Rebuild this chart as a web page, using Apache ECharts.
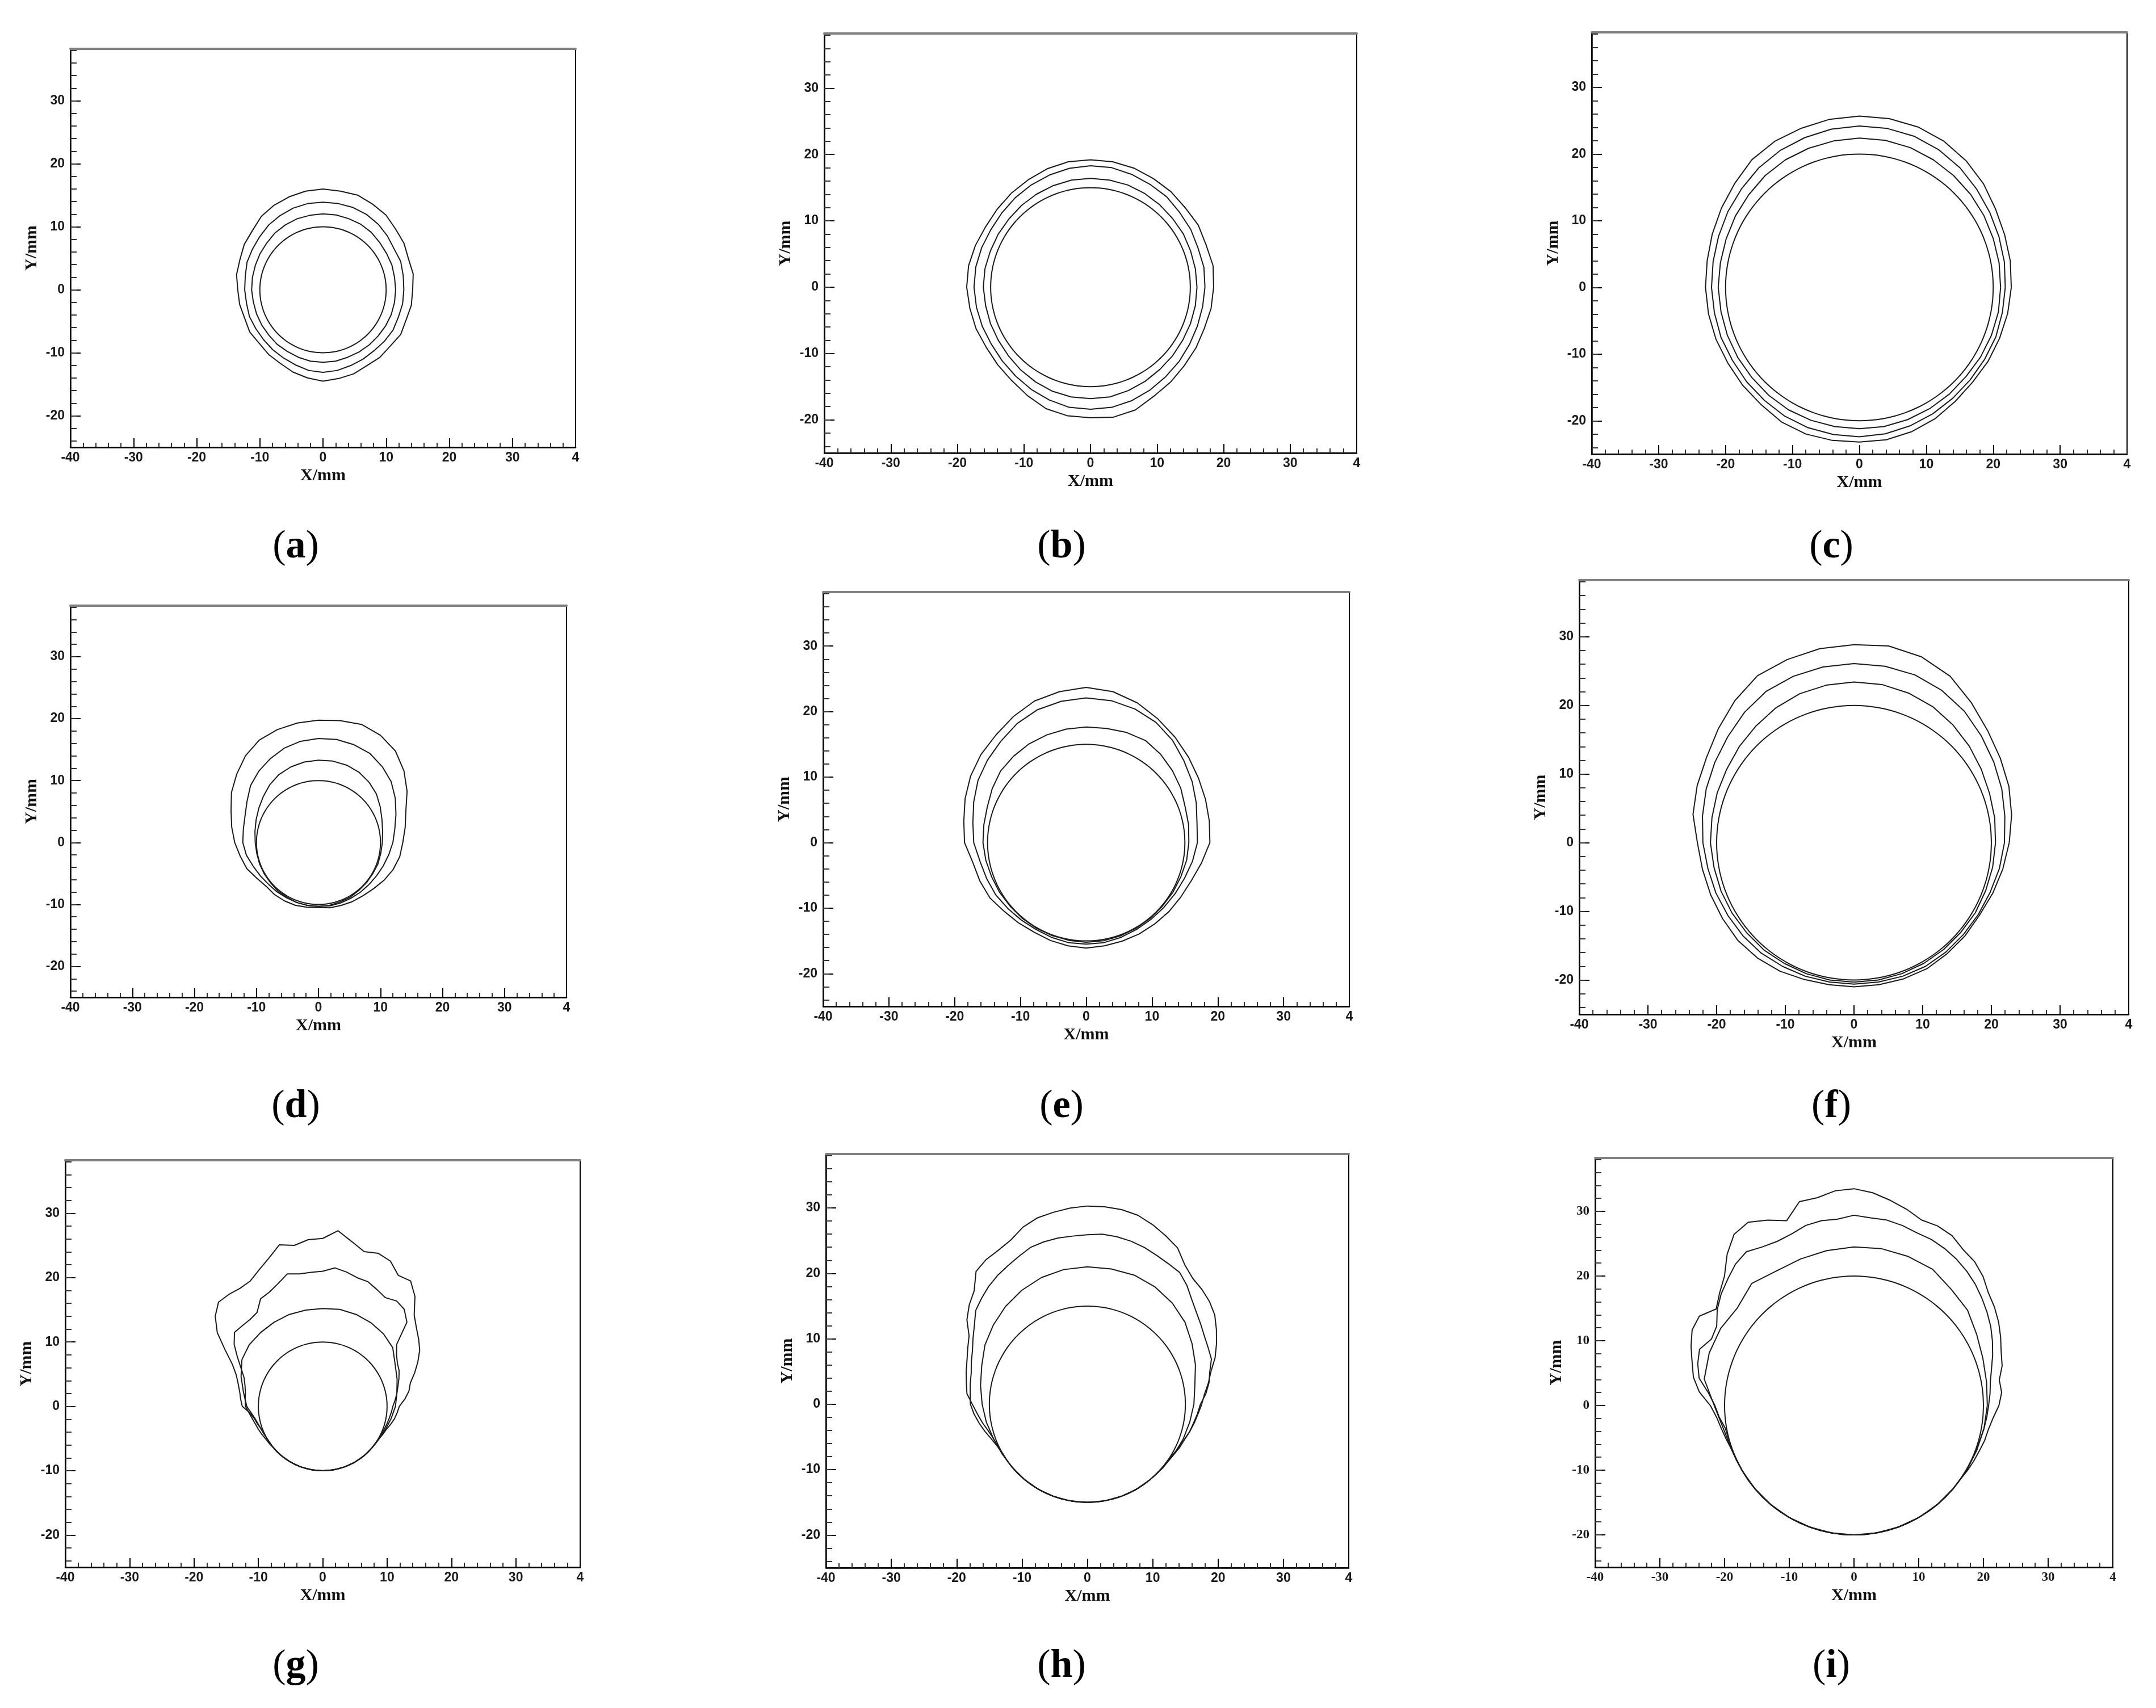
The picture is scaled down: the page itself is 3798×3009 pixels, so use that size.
<!DOCTYPE html>
<html>
<head>
<meta charset="utf-8">
<title>Contours</title>
<script src="https://cdn.jsdelivr.net/npm/echarts@6/dist/echarts.min.js"></script>
<style>
  html, body { margin: 0; padding: 0; background: #fff; }
  #chart { width: 3798px; height: 3009px; }
</style>
</head>
<body>
<div id="chart"></div>
<script>
// panel letters, left to right, top to bottom
const panels = ['a', 'b', 'c', 'd', 'e', 'f', 'g', 'h', 'i'];
// radius of the start circle in each panel (mm)
const baseRadius = [10, 15, 20, 10, 15, 20, 10, 15, 20];

// tick values
const yTicks = [-20, -10, 0, 10, 20, 30];
const yMinorTicks = [-24, -22, -20, -18, -16, -14, -12, -10, -8, -6, -4, -2, 0, 2, 4, 6, 8, 10,
  12, 14, 16, 18, 20, 22, 24, 26, 28, 30, 32, 34, 36, 38];

// contour radii (mm), evenly spaced in angle, counter-clockwise from +X
const a1 = [11.5, 11.5, 11.6, 11.6, 11.7, 11.9, 12.0, 12.0, 12.05, 12.05, 12.0, 12.0, 11.9, 11.8, 11.6, 11.5, 11.4, 11.35,
  11.3, 11.2, 11.2, 11.2, 11.2, 11.3, 11.3, 11.4, 11.5, 11.5, 11.5, 11.4, 11.4, 11.4, 11.4, 11.45, 11.5, 11.5];
const a2 = [12.8, 12.9, 13.1, 13.0, 13.3, 13.6, 13.8, 13.9, 13.9, 13.9, 13.9, 13.8, 13.6, 13.4, 13.1, 12.9, 12.8, 12.5,
  12.4, 12.3, 12.4, 12.3, 12.3, 12.4, 12.5, 12.7, 13.0, 13.1, 13.0, 12.8, 12.7, 12.6, 12.7, 12.8, 12.7, 12.8];
const a3 = [14.2, 14.5, 14.4, 14.8, 15.0, 15.5, 15.7, 16.0, 15.9, 16.0, 15.9, 15.7, 15.5, 15.2, 14.6, 14.4, 14.0, 13.9,
  13.5, 13.4, 13.2, 13.4, 13.2, 13.4, 13.5, 13.9, 14.2, 14.5, 14.3, 14.2, 13.9, 14.0, 13.9, 14.2, 14.0, 14.2];

const b1 = [16.0, 16.0, 16.0, 16.1, 16.1, 16.2, 16.3, 16.4, 16.4, 16.4, 16.4, 16.3, 16.2, 16.1, 16.0, 16.0, 16.0, 16.1,
  16.1, 16.0, 16.0, 16.0, 16.1, 16.3, 16.5, 16.7, 16.8, 16.8, 16.8, 16.6, 16.4, 16.2, 16.1, 16.0, 16.0, 16.0];
const b2 = [17.2, 17.3, 17.2, 17.4, 17.5, 17.8, 17.9, 18.1, 18.3, 18.3, 18.2, 18.0, 17.8, 17.6, 17.4, 17.3, 17.4, 17.5,
  17.5, 17.4, 17.3, 17.2, 17.3, 17.5, 17.8, 18.1, 18.4, 18.4, 18.4, 18.2, 17.9, 17.6, 17.4, 17.2, 17.1, 17.1];
const b3 = [18.5, 18.7, 18.5, 18.7, 18.6, 18.8, 18.9, 19.1, 19.2, 19.2, 19.2, 19.0, 18.7, 18.5, 18.3, 18.2, 18.4, 18.6,
  18.6, 18.4, 18.3, 18.1, 18.2, 18.4, 18.9, 19.5, 19.7, 19.7, 19.9, 19.7, 19.0, 18.7, 18.4, 18.3, 18.2, 18.4];

const c1 = [21.1, 21.2, 21.3, 21.5, 21.7, 21.9, 22.1, 22.3, 22.4, 22.4, 22.3, 22.2, 22.1, 21.9, 21.6, 21.4, 21.2, 21.1,
  21.1, 21.0, 21.0, 21.0, 21.0, 21.1, 21.2, 21.2, 21.2, 21.2, 21.2, 21.1, 21.0, 20.9, 20.8, 20.9, 21.0, 21.1];
const c2 = [21.8, 22.0, 22.2, 22.5, 22.9, 23.4, 23.8, 24.1, 24.2, 24.2, 24.1, 23.9, 23.7, 23.4, 23.0, 22.7, 22.4, 22.2,
  22.1, 22.0, 22.0, 21.9, 22.0, 22.1, 22.3, 22.4, 22.4, 22.4, 22.3, 22.1, 21.9, 21.7, 21.6, 21.6, 21.7, 21.7];
const c3 = [22.7, 22.9, 23.1, 23.5, 24.2, 24.8, 25.3, 25.6, 25.7, 25.7, 25.6, 25.4, 25.3, 25.0, 24.3, 23.8, 23.4, 23.1,
  23.0, 22.9, 22.8, 22.7, 22.8, 22.9, 23.3, 23.4, 23.3, 23.2, 23.2, 23.0, 22.7, 22.3, 22.1, 22.2, 22.3, 22.5];

const d1 = [10.3, 10.5, 10.9, 11.5, 12.2, 12.7, 13.1, 13.3, 13.35, 13.3, 13.2, 13.0, 12.7, 12.2, 11.6, 11.1, 10.7, 10.4,
  10.2, 10.1, 10.1, 10.1, 10.1, 10.2, 10.2, 10.3, 10.3, 10.3, 10.3, 10.2, 10.2, 10.1, 10.1, 10.1, 10.2, 10.2];
const d2 = [12.0, 12.5, 13.3, 14.3, 15.3, 16.0, 16.6, 16.8, 16.9, 16.8, 16.6, 16.2, 15.6, 15.0, 14.3, 13.3, 12.6, 12.3,
  12.2, 11.8, 11.2, 10.8, 10.5, 10.4, 10.3, 10.3, 10.3, 10.3, 10.4, 10.4, 10.4, 10.5, 10.6, 10.8, 11.1, 11.5];
const d3 = [13.6, 14.2, 15.0, 16.5, 18.0, 19.3, 20.0, 20.3, 20.0, 19.75, 19.6, 19.4, 19.1, 18.3, 17.2, 16.2, 15.0, 14.2,
  13.5, 12.8, 12.3, 11.5, 11.0, 11.0, 10.9, 10.8, 10.6, 10.5, 10.7, 10.8, 11.0, 11.2, 11.6, 12.2, 12.8, 13.3];

const e1 = [15.6, 15.8, 16.0, 16.6, 17.1, 17.6, 18.0, 17.9, 17.7, 17.65, 17.6, 17.5, 17.4, 17.2, 17.0, 16.5, 16.0, 15.8,
  15.7, 15.5, 15.3, 15.2, 15.1, 15.1, 15.1, 15.1, 15.15, 15.2, 15.2, 15.15, 15.1, 15.1, 15.1, 15.2, 15.3, 15.5];
const e2 = [16.9, 17.1, 17.8, 18.6, 19.4, 20.4, 21.2, 21.7, 22.0, 22.1, 21.9, 21.6, 21.0, 20.2, 19.6, 19.0, 18.2, 17.5,
  17.1, 16.4, 16.1, 15.9, 15.6, 15.4, 15.3, 15.4, 15.5, 15.5, 15.5, 15.4, 15.3, 15.3, 15.4, 15.6, 15.9, 16.4];
const e3 = [18.8, 19.0, 19.3, 19.7, 20.3, 21.0, 21.8, 22.7, 23.4, 23.7, 23.4, 23.0, 22.2, 21.4, 20.9, 20.3, 19.6, 18.9,
  18.5, 17.5, 17.2, 16.9, 16.3, 16.0, 15.8, 15.9, 16.0, 16.1, 16.0, 16.0, 16.1, 16.2, 16.4, 16.6, 17.0, 17.8];

const f1 = [20.6, 20.8, 21.0, 21.4, 21.9, 22.4, 22.9, 23.2, 23.4, 23.4, 23.3, 23.1, 22.7, 22.2, 21.8, 21.4, 21.2, 21.0,
  20.9, 20.7, 20.6, 20.5, 20.4, 20.4, 20.3, 20.3, 20.3, 20.3, 20.3, 20.3, 20.3, 20.3, 20.3, 20.4, 20.4, 20.5];
const f2 = [21.9, 22.3, 22.9, 23.5, 24.2, 25.0, 25.6, 26.0, 26.1, 26.1, 26.0, 25.8, 25.5, 24.8, 24.0, 23.4, 22.9, 22.4,
  22.0, 21.6, 21.4, 21.2, 21.1, 21.0, 20.8, 20.7, 20.6, 20.6, 20.6, 20.7, 20.8, 20.8, 20.8, 20.9, 21.1, 21.5];
const f3 = [22.6, 23.3, 24.0, 24.6, 25.4, 26.6, 28.0, 28.8, 29.1, 28.85, 28.7, 28.4, 28.1, 27.0, 25.8, 24.8, 24.3, 23.8,
  22.8, 22.4, 22.2, 22.1, 22.1, 21.9, 21.6, 21.2, 21.0, 21.0, 21.0, 21.1, 21.2, 21.1, 21.1, 21.1, 21.5, 22.0];

const g1 = [11.3, 11.7, 12.3, 13.0, 14.2, 14.7, 15.0, 15.2, 15.3, 15.2, 15.2, 15.2, 15.1, 15.0, 14.9, 14.5, 13.5, 12.5,
  11.8, 10.7, 10.2, 10.0, 10.0, 10.0, 10.0, 10.0, 10.0, 10.0, 10.0, 10.0, 10.0, 10.0, 10.0, 10.1, 10.4, 10.8];
const g2 = [10.9, 11.3, 11.7, 12.1, 12.6, 13.1, 13.4, 14.0, 15.0, 18.5, 19.7, 20.0, 19.5, 20.0, 20.6, 20.7, 21.2, 21.6,
  21.0, 20.9, 20.9, 21.3, 20.3, 19.6, 19.3, 17.8, 17.6, 17.7, 17.9, 16.8, 15.3, 14.0, 13.0, 12.5, 12.2, 12.1,
  12.0, 11.5, 11.1, 10.8, 10.6, 10.4, 10.2, 10.1, 10.0, 10.0, 10.0, 10.0, 10.0, 10.0, 10.0, 10.0, 10.0, 10.0,
  10.0, 10.0, 10.0, 10.0, 10.0, 10.0, 10.0, 10.0, 10.0, 10.0, 10.0, 10.0, 10.05, 10.1, 10.2, 10.35, 10.5, 10.7];
const g3 = [11.9, 12.8, 13.6, 14.1, 15.2, 16.3, 17.4, 18.2, 19.0, 20.1, 22.3, 23.8, 23.5, 24.9, 25.3, 24.9, 26.0, 27.4,
  26.1, 26.0, 25.4, 26.0, 24.5, 23.4, 22.5, 22.4, 22.7, 22.9, 21.8, 20.0, 17.5, 15.5, 14.3, 13.6, 13.1, 12.8,
  12.5, 11.4, 10.8, 10.5, 10.2, 10.1, 10.0, 10.0, 10.0, 10.0, 10.0, 10.0, 10.0, 10.0, 10.0, 10.0, 10.0, 10.0,
  10.0, 10.0, 10.0, 10.0, 10.0, 10.0, 10.0, 10.0, 10.0, 10.0, 10.0, 10.05, 10.1, 10.3, 10.5, 10.9, 11.3, 11.6];

const h1 = [16.3, 16.7, 17.6, 18.5, 19.5, 20.2, 20.7, 21.0, 21.0, 21.0, 20.9, 20.6, 20.1, 19.5, 18.8, 18.1, 17.2, 16.6,
  16.1, 15.7, 15.3, 15.1, 15.0, 15.0, 15.0, 15.0, 15.0, 15.0, 15.0, 15.0, 15.0, 15.0, 15.1, 15.3, 15.6, 15.9];
const h2 = [17.3, 18.2, 18.9, 19.4, 20.2, 20.4, 20.7, 21.2, 21.8, 22.6, 23.7, 24.6, 24.8, 25.1, 25.5, 25.8, 26.0, 26.1,
  25.9, 25.8, 25.8, 25.7, 25.5, 24.9, 24.4, 24.0, 23.5, 22.9, 22.3, 21.1, 20.2, 19.4, 18.9, 18.4, 18.2, 18.0,
  17.9, 17.4, 16.8, 16.2, 15.6, 15.2, 15.0, 15.0, 15.0, 15.0, 15.0, 15.0, 15.0, 15.0, 15.0, 15.0, 15.0, 15.0,
  15.0, 15.0, 15.0, 15.0, 15.0, 15.0, 15.0, 15.0, 15.0, 15.0, 15.0, 15.1, 15.3, 15.6, 15.8, 16.2, 16.5, 16.9];
const h3 = [17.5, 18.0, 18.8, 19.6, 20.8, 21.8, 22.8, 23.8, 24.4, 24.8, 25.1, 26.0, 27.6, 28.4, 29.2, 29.9, 30.2, 30.3,
  30.3, 30.1, 29.8, 29.5, 28.8, 27.7, 27.2, 27.0, 26.5, 24.5, 23.6, 22.5, 20.9, 20.2, 19.6, 19.2, 18.8, 18.5,
  17.6, 16.9, 16.3, 15.7, 15.3, 15.1, 15.0, 15.0, 15.0, 15.0, 15.0, 15.0, 15.0, 15.0, 15.0, 15.0, 15.0, 15.0,
  15.0, 15.0, 15.0, 15.0, 15.0, 15.0, 15.0, 15.0, 15.0, 15.0, 15.0, 15.0, 15.2, 15.5, 15.8, 16.2, 16.6, 17.0];

const i1 = [20.6, 20.8, 21.2, 21.9, 22.9, 23.4, 24.3, 24.5, 24.6, 24.5, 24.3, 24.1, 24.0, 24.6, 23.5, 23.8, 23.8, 23.5,
  21.6, 20.5, 20.1, 20.0, 20.0, 20.0, 20.0, 20.0, 20.0, 20.0, 20.0, 20.0, 20.0, 20.0, 20.0, 20.1, 20.2, 20.4];
const i2 = [20.8, 21.1, 21.4, 22.0, 22.8, 23.6, 24.4, 25.1, 25.8, 26.5, 27.1, 27.6, 28.0, 28.3, 28.4, 28.8, 29.1, 29.1,
  29.4, 28.9, 29.0, 28.8, 28.2, 28.0, 28.3, 29.0, 28.5, 27.6, 26.8, 25.8, 24.5, 24.3, 25.4, 25.0, 24.3, 22.6,
  21.5, 20.9, 20.2, 20.05, 20.0, 20.0, 20.0, 20.0, 20.0, 20.0, 20.0, 20.0, 20.0, 20.0, 20.0, 20.0, 20.0, 20.0,
  20.0, 20.0, 20.0, 20.0, 20.0, 20.0, 20.0, 20.0, 20.0, 20.0, 20.0, 20.0, 20.0, 20.05, 20.1, 20.2, 20.4, 20.6];
const i3 = [22.4, 22.9, 22.8, 23.7, 24.2, 25.0, 25.8, 26.5, 27.1, 28.2, 29.0, 29.4, 30.3, 30.6, 30.5, 31.4, 32.2, 33.0,
  33.5, 33.3, 32.6, 32.6, 30.4, 31.6, 32.7, 32.3, 30.5, 28.3, 27.1, 26.0, 27.6, 27.6, 26.8, 25.9, 25.2, 24.0,
  22.2, 21.3, 20.8, 20.4, 20.1, 20.05, 20.0, 20.0, 20.0, 20.0, 20.0, 20.0, 20.0, 20.0, 20.0, 20.0, 20.0, 20.0,
  20.0, 20.0, 20.0, 20.0, 20.0, 20.0, 20.0, 20.0, 20.0, 20.0, 20.0, 20.0, 20.2, 20.4, 20.6, 20.9, 21.1, 21.6];

const contours = [[a1, a2, a3], [b1, b2, b3], [c1, c2, c3], [d1, d2, d3], [e1, e2, e3],
  [f1, f2, f3], [g1, g2, g3], [h1, h2, h3], [i1, i2, i3]];

// plot boxes [left, top, width, height] and panel caption centres, in px
const boxes = [
  [124, 86, 890, 702], [1452, 59, 938, 739], [2804, 57, 943, 743],
  [124, 1067, 874, 690], [1450, 1043, 927, 730], [2782, 1022, 968, 765],
  [115, 2044, 907, 717], [1455, 2033, 921, 729], [2810, 2040, 912, 721]
];
const captionPos = [
  [521, 964], [1870, 964], [3226, 964],
  [521, 1950], [1870, 1950], [3226, 1950],
  [521, 2936], [1870, 2936], [3226, 2936]
];

const sans = 'Liberation Sans, Arial, sans-serif';
const serif = 'Liberation Serif, Times New Roman, serif';

// polar samples -> x/y points, closed
function toXY(radii) {
  const step = 2 * Math.PI / radii.length;
  const pts = radii.map((r, k) => [r * Math.cos(k * step), r * Math.sin(k * step)]);
  pts.push(pts[0]);
  return pts;
}

const grids = [], xAxes = [], yAxes = [], series = [], graphic = [];

panels.forEach((p, i) => {
  const b = boxes[i];
  const tickFont = i === 8 ? serif : sans;
  grids.push({ left: b[0], top: b[1], width: b[2], height: b[3], show: true,
    borderColor: '#000', borderWidth: 2, backgroundColor: 'transparent' });

  xAxes.push({
    gridIndex: i, type: 'value', min: -40, max: 40, interval: 10, position: 'bottom',
    axisLine: { onZero: false, lineStyle: { color: '#000', width: 2.5 } },
    axisTick: { inside: true, length: 16, lineStyle: { color: '#000', width: 2 } },
    minorTick: { show: true, splitNumber: 5, length: 8, lineStyle: { color: '#333', width: 2 } },
    splitLine: { show: false },
    axisLabel: { margin: 7, fontSize: 23, fontWeight: 'bold', color: '#1a1a1a', fontFamily: tickFont,
      formatter: v => (v === 40 ? '4' : String(v)) },
    name: 'X/mm', nameLocation: 'middle', nameGap: 35,
    nameTextStyle: { fontFamily: serif, fontWeight: 'bold', fontSize: 30, color: '#111' }
  });
  // grey top frame line
  xAxes.push({
    gridIndex: i, type: 'value', min: -40, max: 40, position: 'top',
    axisLine: { onZero: false, lineStyle: { color: '#808080', width: 4 } },
    axisTick: { show: false }, axisLabel: { show: false }, splitLine: { show: false }
  });

  yAxes.push({
    gridIndex: i, type: 'value', min: -25, max: 38.25, position: 'left',
    axisLine: { onZero: false, lineStyle: { color: '#000', width: 2.5 } },
    axisTick: { inside: true, length: 18, customValues: yTicks, lineStyle: { color: '#000', width: 2 } },
    axisLabel: { customValues: yTicks, margin: 10, fontSize: 23, fontWeight: 'bold', color: '#1a1a1a',
      fontFamily: tickFont },
    splitLine: { show: false },
    name: 'Y/mm', nameLocation: 'middle', nameGap: 53, nameRotate: 90,
    nameTextStyle: { fontFamily: serif, fontWeight: 'bold', fontSize: 30, color: '#111' }
  });
  // minor ticks on the y axis
  yAxes.push({
    gridIndex: i, type: 'value', min: -25, max: 38.25, position: 'left',
    axisLine: { show: false, onZero: false },
    axisTick: { inside: true, length: 11, customValues: yMinorTicks, lineStyle: { color: '#333', width: 2 } },
    axisLabel: { show: false }, splitLine: { show: false }
  });

  // start circle drawn smooth, grown contours left angular like the traced outlines
  const circle = new Array(72).fill(baseRadius[i]);
  [circle].concat(contours[i]).forEach((r, k) => {
    series.push({
      type: 'line', xAxisIndex: 2 * i, yAxisIndex: 2 * i,
      data: toXY(r), showSymbol: false, symbol: 'none', smooth: k === 0 ? 0.3 : false,
      lineStyle: { color: '#1a1a1a', width: 2 }, silent: true
    });
  });

  graphic.push({
    type: 'text', x: captionPos[i][0], y: captionPos[i][1],
    style: {
      text: '{p|(}{b|' + p + '}{p|)}', align: 'center', verticalAlign: 'middle',
      rich: {
        p: { fontFamily: serif, fontSize: 70, fill: '#000' },
        b: { fontFamily: serif, fontSize: 70, fontWeight: 'bold', fill: '#000' }
      }
    }
  });
});

const chart = echarts.init(document.getElementById('chart'));
chart.setOption({
  animation: false,
  backgroundColor: '#fff',
  grid: grids,
  xAxis: xAxes,
  yAxis: yAxes,
  series: series,
  graphic: graphic
});
</script>
</body>
</html>
